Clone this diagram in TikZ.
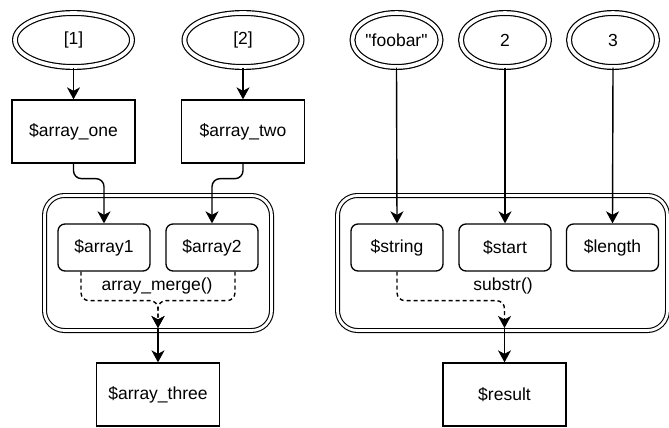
\documentclass[tikz,border=0pt]{standalone}
\usepackage{fontspec}
\setmainfont{Liberation Sans}
\usetikzlibrary{shapes.geometric,arrows.meta}

\tikzset{
  valnode/.style={draw, ellipse, double, double distance=3.6pt, line width=1.2pt, inner sep=0pt, minimum height=54pt},
  varbox/.style={draw, line width=1.3pt, minimum width=123pt, minimum height=63pt, inner sep=0pt},
  argbox/.style={draw, rounded corners=7pt, line width=1.3pt, minimum width=92pt, minimum height=47pt, inner sep=0pt},
  funcbox/.style={draw, double, double distance=2.8pt, line width=1.1pt, rounded corners=20pt, inner sep=0pt, minimum height=135pt},
  flow/.style={line width=1.4pt, rounded corners=8pt, -{Stealth[length=12pt,width=13pt,inset=3.5pt]}},
  dataflow/.style={flow, dash pattern=on 4pt off 3pt}
}

\begin{document}
\begin{tikzpicture}[x=1pt, y=-1pt, font=\fontsize{17.5}{21}\selectfont]
	\useasboundingbox (0,0) rectangle (669,428);

	% functions
	\node (merge)[funcbox, minimum width=227pt] at (158,263) {};
	\node (substr)[funcbox, minimum width=330pt] at (502.5,263) {};
	\node (mergelabel) at (157,286) {array\_merge()};
	\node (substrlabel) at (503,286) {substr()};

	% values
	\node (v1)[valnode, minimum width=117pt] at (73.5,40) {[1]};
	\node (v2)[valnode, minimum width=117pt] at (243,40) {[2]};
	\node (vstr)[valnode, minimum width=88pt] at (396.5,40) {\textquotedbl foobar\textquotedbl};
	\node (vstart)[valnode, minimum width=88pt] at (505,40) {2};
	\node (vlen)[valnode, minimum width=88pt] at (613,40) {3};

	% variables
	\node (one)[varbox] at (73.5,131.5) {\$array\_one};
	\node (two)[varbox] at (243,131.5) {\$array\_two};
	\node (three)[varbox] at (158,394.5) {\$array\_three};
	\node (result)[varbox] at (504.5,394.5) {\$result};

	% parameters
	\node (array1)[argbox] at (104,247.5) {\$array1};
	\node (array2)[argbox] at (212,247.5) {\$array2};
	\node (string)[argbox] at (397,247.5) {\$string};
	\node (start)[argbox] at (505,247.5) {\$start};
	\node (length)[argbox] at (612.5,247.5) {\$length};

	\coordinate (mergeout) at (158,328);
	\coordinate (substrout) at (504.5,328);

	\draw [flow](v1)--(one);
	\draw [flow](v2)--(two);
	\draw [flow](one.south)--++(0,15)-|(array1.north);
	\draw [flow](two.south)--++(0,15)-|(array2.north);
	\draw [flow](vstr.south)--(string.north);
	\draw [flow](vstart.south)--(start.north);
	\draw [flow](vlen.south)--(length.north);

	\draw [dataflow]([xshift=-23pt]array1.south)--++(0,29)-|(mergeout);
	\draw [dataflow]([xshift=23pt]array2.south)--++(0,29)-|(mergeout);
	\draw [dataflow](string.south)--++(0,29)-|(substrout);
	\draw [flow](mergeout)--(three.north);
	\draw [flow](substrout)--(result.north);
\end{tikzpicture}
\end{document}
